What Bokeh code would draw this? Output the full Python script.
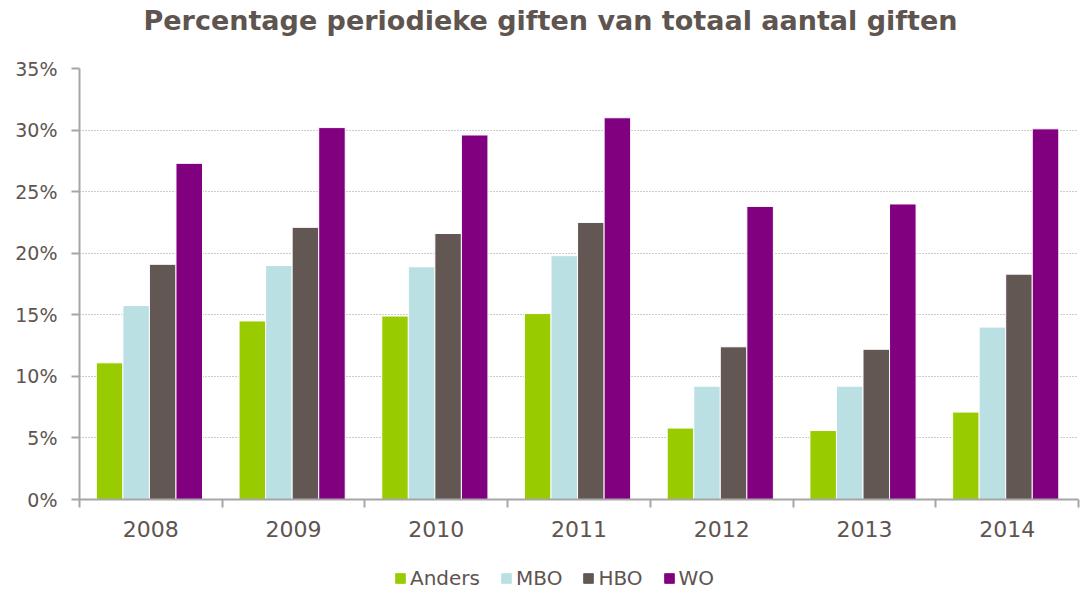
from bokeh.plotting import figure
from bokeh.models import (ColumnDataSource, FixedTicker, NumeralTickFormatter,
                          Legend, LegendItem, Range1d, Title)
from bokeh.layouts import column
from bokeh.transform import dodge
from bokeh.embed import file_html
from bokeh.resources import INLINE

title_text = "Percentage periodieke giften van totaal aantal giften"
years = ["2008", "2009", "2010", "2011", "2012", "2013", "2014"]
anders = [11.1, 14.5, 14.9, 15.1, 5.8, 5.6, 7.1]
mbo = [15.75, 19.0, 18.9, 19.8, 9.2, 9.2, 14.0]
hbo = [19.1, 22.1, 21.6, 22.5, 12.4, 12.2, 18.3]
wo = [27.3, 30.2, 29.6, 31.0, 23.8, 24.0, 30.1]
series_names = ["Anders", "MBO", "HBO", "WO"]
colors = ["#99CC00", "#BBE0E3", "#625753", "#800080"]

xc = [i + 0.5 for i in range(len(years))]
src = ColumnDataSource(dict(
    x=xc,
    Anders=[v / 100 for v in anders],
    MBO=[v / 100 for v in mbo],
    HBO=[v / 100 for v in hbo],
    WO=[v / 100 for v in wo],
))

text_col = "#5E5450"
font = "DejaVu Sans"

p = figure(width=1080, height=556, output_backend="svg", toolbar_location=None,
           x_range=Range1d(0, 7), y_range=Range1d(0, 0.35),
           min_border_left=79, min_border_right=2, min_border_top=68,
           min_border_bottom=57)
p.title.text = ""

bw = 0.186
offsets = [-1.5 * bw, -0.5 * bw, 0.5 * bw, 1.5 * bw]
for name, col, off in zip(series_names, colors, offsets):
    p.vbar(x=dodge("x", off - 0.01, range=p.x_range), top=name, width=bw, source=src,
           fill_color=col, line_color="white", line_width=1)

# spacer between frame and title (closest to frame)
spacer = Title(text=" ", text_font=font, text_font_size="10px", standoff=16)
p.add_layout(spacer, "above")
main_title = Title(text=title_text, text_font=font, text_font_size="27px",
                   text_font_style="bold", text_color=text_col, align="left",
                   offset=64, vertical_align="top", standoff=4)
p.add_layout(main_title, "above")

p.outline_line_color = None
p.background_fill_color = "white"

# y axis
p.yaxis.ticker = FixedTicker(ticks=[0, 0.05, 0.10, 0.15, 0.20, 0.25, 0.30, 0.35])
p.yaxis.formatter = NumeralTickFormatter(format="0%")
p.yaxis.major_label_text_font = font
p.yaxis.major_label_text_font_size = "19px"
p.yaxis.major_label_text_color = text_col
p.yaxis.axis_line_color = "#A6A6A6"
p.yaxis.axis_line_width = 2
p.yaxis.major_tick_line_color = "#A6A6A6"
p.yaxis.major_tick_line_width = 2
p.yaxis.major_tick_in = 0
p.yaxis.major_tick_out = 8
p.yaxis.minor_tick_line_color = None
p.yaxis.major_label_standoff = 14

# x axis
p.xaxis.ticker = FixedTicker(ticks=xc, minor_ticks=list(range(len(years) + 1)))
p.xaxis.major_label_overrides = {x: y for x, y in zip(xc, years)}
p.xaxis.major_label_text_font = font
p.xaxis.major_label_text_font_size = "22px"
p.xaxis.major_label_text_color = text_col
p.xaxis.axis_line_color = "#A6A6A6"
p.xaxis.axis_line_width = 2
p.xaxis.major_tick_line_color = None
p.xaxis.major_tick_in = 0
p.xaxis.major_tick_out = 0
p.xaxis.minor_tick_line_color = "#A6A6A6"
p.xaxis.minor_tick_line_width = 2
p.xaxis.minor_tick_in = 0
p.xaxis.minor_tick_out = 8
p.xaxis.major_label_standoff = 13

p.xgrid.grid_line_color = None
p.ygrid.grid_line_color = "#999999"
p.ygrid.grid_line_dash = "1 2"
p.ygrid.grid_line_width = 1

# legend strip below the chart (its own bars lie entirely outside its view)
lg = figure(width=1080, height=34, output_backend="svg", toolbar_location=None,
            x_axis_type=None, y_axis_type=None, min_border=0,
            x_range=Range1d(-30, -20), y_range=Range1d(20, 30))
lg.outline_line_color = None
lg.xgrid.grid_line_color = None
lg.ygrid.grid_line_color = None
lg_renderers = [lg.vbar(x="x", top=name, width=bw, source=src,
                        fill_color=c, line_color=c)
                for name, c in zip(series_names, colors)]
legend = Legend(items=[LegendItem(label=n, renderers=[r])
                       for n, r in zip(series_names, lg_renderers)],
                orientation="horizontal", location=(315, 0))
legend.label_text_font = font
legend.label_text_font_size = "20px"
legend.label_text_color = text_col
legend.glyph_width = 12
legend.glyph_height = 12
legend.spacing = 20
legend.label_standoff = 4
legend.padding = 0
legend.margin = 0
legend.border_line_color = None
legend.background_fill_alpha = 0
lg.add_layout(legend, "center")

layout = column(p, lg, spacing=0)
open("out.html", "w").write(file_html(layout, INLINE))
